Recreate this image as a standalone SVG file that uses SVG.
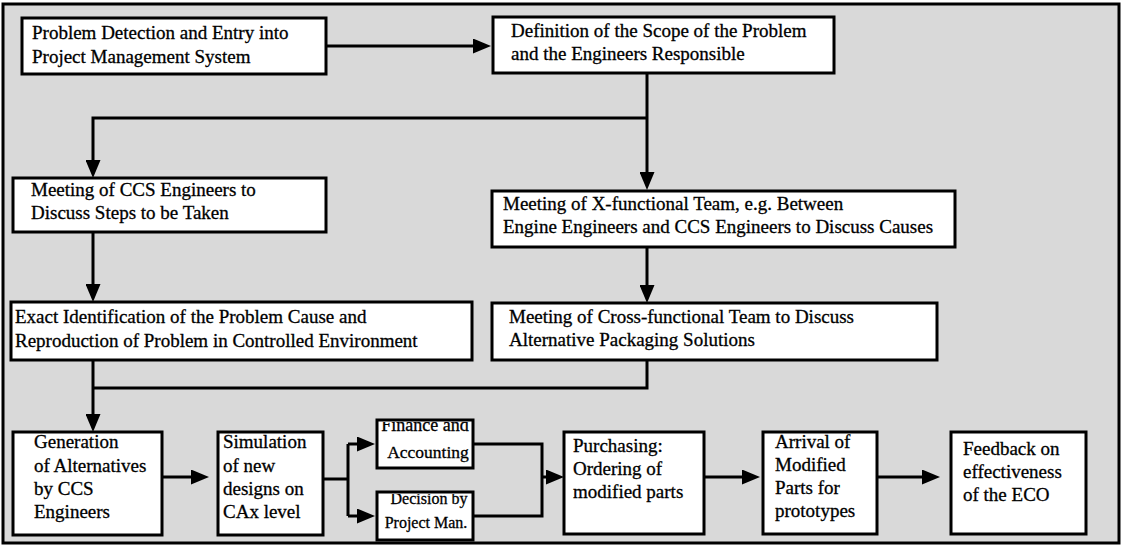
<svg xmlns="http://www.w3.org/2000/svg" width="1124" height="547" viewBox="0 0 1124 547">
  <style>
    .box { fill: #ffffff; stroke: #000000; stroke-width: 3; }
    .lbl { font-family: "Liberation Serif", "Times New Roman", serif; font-size: 19px; fill: #000000; stroke: #000000; stroke-width: 0.3; }
    .mid { text-anchor: middle; }
    .wire { fill: none; stroke: #000000; stroke-width: 3; }
    .arr { marker-end: url(#head); }
  </style>
  <defs>
    <marker id="head" viewBox="0 0 18 15" refX="8" refY="7.5" markerWidth="18" markerHeight="15" markerUnits="userSpaceOnUse" orient="auto">
      <path d="M0,0 L18,7.5 L0,15 z" fill="#000000"/>
    </marker>
    <clipPath id="clipFinance"><rect x="379" y="422" width="92" height="44"/></clipPath>
    <clipPath id="clipDecision"><rect x="379" y="494" width="92" height="44"/></clipPath>
  </defs>

  <!-- page and outer frame -->
  <rect x="0" y="0" width="1124" height="547" fill="#ffffff"/>
  <rect x="3" y="4" width="1116" height="539" fill="#d9d9d9" stroke="#000000" stroke-width="3"/>

  <!-- connectors -->
  <g id="connectors">
    <path class="wire arr" d="M326,46 H481"/>
    <path class="wire arr" d="M647,73 V180"/>
    <path class="wire arr" d="M647,118 H93 V168"/>
    <path class="wire arr" d="M93,232 V292"/>
    <path class="wire arr" d="M647,247 V293"/>
    <path class="wire arr" d="M93,360 V422"/>
    <path class="wire" d="M647,360 V388 H93"/>
    <path class="wire arr" d="M162,477 H199"/>
    <path class="wire" d="M323,479 H348 M348,444 V516"/>
    <path class="wire arr" d="M348,444 H365"/>
    <path class="wire arr" d="M348,516 H365"/>
    <path class="wire" d="M473,444 H542 V516 H473"/>
    <path class="wire arr" d="M541,477 H554"/>
    <path class="wire arr" d="M704,477 H750"/>
    <path class="wire arr" d="M877,477 H930"/>
  </g>

  <g id="problem-detection">
    <rect class="box" x="22" y="18" width="304" height="56"/>
    <text class="lbl" x="32" y="39">Problem Detection and Entry into</text>
    <text class="lbl" x="32" y="63">Project Management System</text>
  </g>

  <g id="scope-definition">
    <rect class="box" x="493" y="17" width="341" height="56"/>
    <text class="lbl" x="511" y="37">Definition of the Scope of the Problem</text>
    <text class="lbl" x="511" y="60">and the Engineers Responsible</text>
  </g>

  <g id="ccs-meeting">
    <rect class="box" x="13" y="178" width="313" height="54"/>
    <text class="lbl" x="31" y="196">Meeting of CCS Engineers to</text>
    <text class="lbl" x="31" y="219">Discuss Steps to be Taken</text>
  </g>

  <g id="xfunctional-meeting">
    <rect class="box" x="492" y="191" width="463" height="56"/>
    <text class="lbl" x="503" y="210">Meeting of X-functional Team, e.g. Between</text>
    <text class="lbl" x="503" y="233">Engine Engineers and CCS Engineers to Discuss Causes</text>
  </g>

  <g id="cause-identification">
    <rect class="box" x="11" y="302" width="461" height="58"/>
    <text class="lbl" x="15" y="323">Exact Identification of the Problem Cause and</text>
    <text class="lbl" x="15" y="347">Reproduction of Problem in Controlled Environment</text>
  </g>

  <g id="packaging-meeting">
    <rect class="box" x="492" y="303" width="445" height="57"/>
    <text class="lbl" x="509" y="323">Meeting of Cross-functional Team to Discuss</text>
    <text class="lbl" x="509" y="346">Alternative Packaging Solutions</text>
  </g>

  <g id="alternatives">
    <rect class="box" x="13" y="432" width="149" height="103"/>
    <text class="lbl" x="34" y="448">Generation</text>
    <text class="lbl" x="34" y="472">of Alternatives</text>
    <text class="lbl" x="34" y="495">by CCS</text>
    <text class="lbl" x="34" y="518">Engineers</text>
  </g>

  <g id="simulation">
    <rect class="box" x="218" y="432" width="105" height="103"/>
    <text class="lbl" x="223" y="448">Simulation</text>
    <text class="lbl" x="223" y="472">of new</text>
    <text class="lbl" x="223" y="495">designs on</text>
    <text class="lbl" x="223" y="518">CAx level</text>
  </g>

  <g id="finance">
    <rect class="box" x="377" y="420" width="96" height="48"/>
    <g clip-path="url(#clipFinance)">
      <text class="lbl mid" x="425" y="431" style="font-size:18px">Finance and</text>
      <text class="lbl mid" x="428" y="458" style="font-size:17.5px">Accounting</text>
    </g>
  </g>

  <g id="decision">
    <rect class="box" x="377" y="492" width="96" height="48"/>
    <g clip-path="url(#clipDecision)">
      <text class="lbl mid" x="429" y="504" style="font-size:16px">Decision by</text>
      <text class="lbl mid" x="426" y="528" style="font-size:16px">Project Man.</text>
    </g>
  </g>

  <g id="purchasing">
    <rect class="box" x="564" y="432" width="140" height="102"/>
    <text class="lbl" x="573" y="452">Purchasing:</text>
    <text class="lbl" x="573" y="475">Ordering of</text>
    <text class="lbl" x="573" y="498">modified parts</text>
  </g>

  <g id="parts-arrival">
    <rect class="box" x="763" y="432" width="114" height="102"/>
    <text class="lbl" x="775" y="448">Arrival of</text>
    <text class="lbl" x="775" y="471">Modified</text>
    <text class="lbl" x="775" y="494">Parts for</text>
    <text class="lbl" x="775" y="517">prototypes</text>
  </g>

  <g id="eco-feedback">
    <rect class="box" x="951" y="432" width="135" height="102"/>
    <text class="lbl" x="963" y="455">Feedback on</text>
    <text class="lbl" x="963" y="478">effectiveness</text>
    <text class="lbl" x="963" y="501">of the ECO</text>
  </g>
</svg>
